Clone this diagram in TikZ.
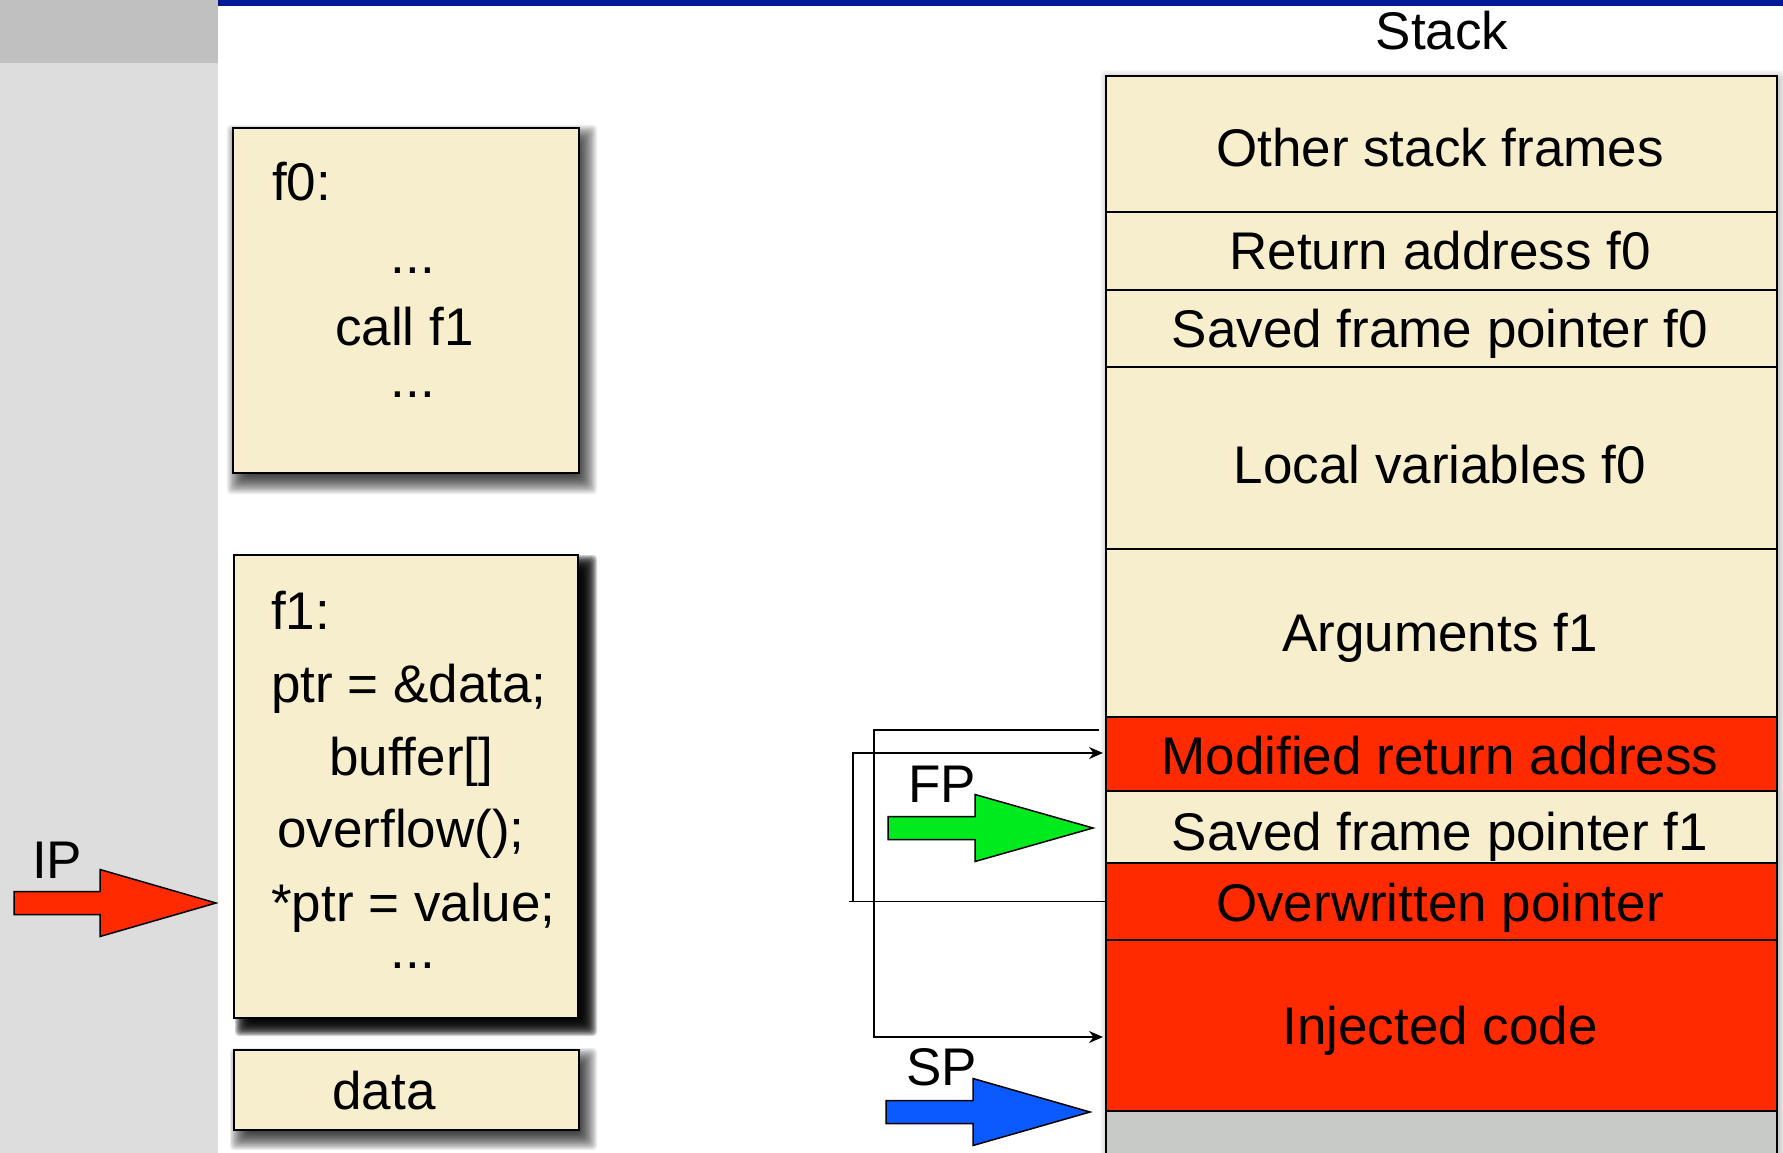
\documentclass[tikz,border=0pt]{standalone}
\usepackage{fontspec}
\setmainfont{Liberation Sans}
\usetikzlibrary{arrows.meta,calc}
\definecolor{cream}{HTML}{F6EECC}
\definecolor{hotred}{HTML}{FF2A00}
\definecolor{fpgreen}{HTML}{00EB1E}
\definecolor{spblue}{HTML}{0A5AFF}
\definecolor{panel}{HTML}{DDDDDD}
\definecolor{paneltop}{HTML}{BFC0BF}
\definecolor{barblue}{HTML}{001A94}
\definecolor{stackgray}{HTML}{C8CAC8}
\newcommand{\myblurshadow}[8]{%
  \foreach \k in {0,...,19}{%
    \pgfmathsetmacro{\ins}{-#7+\k*2*#7/19}%
    \fill[black,opacity=#8,rounded corners=4pt] ({#1+#5+\ins},{#2+#6+\ins}) rectangle ({#3+#5-\ins},{#4+#6-\ins});
  }}
\newcommand{\myblockarrow}[5]{% colour, left, base, tip, centre y
  \filldraw[blockarrow, fill=#1] (#2,#5-11.5) -- (#3,#5-11.5) -- (#3,#5-33.5) -- (#4,#5) -- (#3,#5+33.5) -- (#3,#5+11.5) -- (#2,#5+11.5) -- cycle;}
\tikzset{
  txt/.style={font=\fontsize{53}{60}\selectfont, inner sep=0pt, anchor=base west},
  ctxt/.style={txt, anchor=base},
  codebox/.style={draw=black, fill=cream, line width=2pt, inner sep=0pt, anchor=north west},
  stackrow/.style={draw=black, fill=cream, line width=2pt, inner sep=0pt, anchor=north west, minimum width=671pt},
  hotrow/.style={stackrow, fill=hotred},
  conn/.style={line width=1.5pt, black},
  tipped/.style={-{Stealth[length=14pt,width=12pt]}},
  blockarrow/.style={draw=black, line width=1.5pt, line join=miter},
}
\begin{document}
\begin{tikzpicture}[x=1pt,y=-1pt]
\useasboundingbox (0,0) rectangle (1783,1153);
\clip (0,0) rectangle (1783,1153);
% background
\fill[white] (0,0) rectangle (1783,1153);
\fill[panel] (0,0) rectangle (218,1153);
\fill[paneltop] (0,0) rectangle (218,63);
\fill[barblue] (218,0) rectangle (1783,6);

% shadows
\myblurshadow{232}{127}{578}{472}{7}{10}{12}{0.075}
\myblurshadow{233}{554}{577}{1017}{11}{10}{9}{0.17}
\myblurshadow{233}{1049}{578}{1129}{8}{10}{11}{0.075}
\myblurshadow{1105}{75}{1776}{1160}{3}{3}{8}{0.02}

% code boxes
\node[codebox, minimum width=346pt, minimum height=345pt] (f0) at (232,127) {};
\node[codebox, minimum width=344pt, minimum height=463pt] (f1) at (233,554) {};
\node[codebox, minimum width=345pt, minimum height=80pt] (data) at (233,1049) {};

\node[txt] (f0a) at (272,200) {f0:};
\node[ctxt] (f0b) at (413,273) {...};
\node[txt] (f0c) at (335,345) {call f1};
\node[ctxt] (f0d) at (413,397) {...};

\node[txt] (f1a) at (271,629) {f1:};
\node[txt] (f1b) at (271,702) {ptr = \&data;};
\node[txt] (f1c) at (329,775) {buffer[]};
\node[txt] (f1d) at (277,847) {overflow();};
\node[txt] (f1e) at (271,921) {*ptr = value;};
\node[ctxt] (f1f) at (413,968) {...};

\node[ctxt] (datat) at (384,1109) {data};

% stack
\node[ctxt] (stacktitle) at (1442,50) {Stack};
\node[stackrow, minimum height=136pt] (r1) at (1105,75) {};
\node[stackrow, minimum height=78pt] (r2) at (1105,211) {};
\node[stackrow, minimum height=77pt] (r3) at (1105,289) {};
\node[stackrow, minimum height=182pt] (r4) at (1105,366) {};
\node[stackrow, minimum height=168pt] (r5) at (1105,548) {};
\node[hotrow, minimum height=74pt] (r6) at (1105,716) {};
\node[stackrow, minimum height=72pt] (r7) at (1105,790) {};
\node[hotrow, minimum height=77pt] (r8) at (1105,862) {};
\node[hotrow, minimum height=171pt] (r9) at (1105,939) {};
\node[stackrow, fill=stackgray, minimum height=60pt] (r10) at (1105,1110) {};

\node[ctxt] (l1) at (1440,167) {Other stack frames};
\node[ctxt] (l2) at (1440,269) {Return address f0};
\node[ctxt] (l3) at (1440,347) {Saved frame pointer f0};
\node[ctxt] (l4) at (1440,483) {Local variables f0};
\node[ctxt] (l5) at (1440,651) {Arguments f1};
\node[ctxt] (l6) at (1440,774) {Modified return address};
\node[ctxt] (l7) at (1440,850) {Saved frame pointer f1};
\node[ctxt] (l8) at (1440,921) {Overwritten pointer};
\node[ctxt] (l9) at (1440,1044) {Injected code};

% connectors
\draw[conn, tipped] ([shift={(-6pt,24pt)}]r6.west) -- ++(-225,0) |- ([shift={(-2pt,-11.5pt)}]r9.west);
\draw[conn] (r8.west) -- ++(-256,0);
\draw[conn, tipped] ($(r8.west)+(-252,0)$) |- ([shift={(-2pt,1pt)}]r6.west);

% block arrows and labels
\myblockarrow{hotred}{14}{100}{216}{903}
\myblockarrow{fpgreen}{888}{975}{1093}{828}
\myblockarrow{spblue}{886}{973}{1090}{1112}
\node[txt] (ip) at (32,878) {IP};
\node[txt] (fp) at (908,802) {FP};
\node[txt] (sp) at (906,1085) {SP};
\end{tikzpicture}
\end{document}
